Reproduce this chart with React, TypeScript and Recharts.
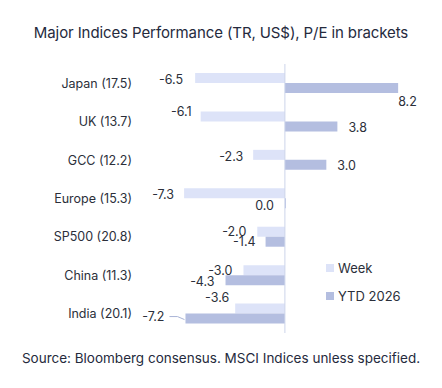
import React from "react"
import { Bar, BarChart, ReferenceLine, XAxis, YAxis } from "recharts"

const categories = [
  "Japan (17.5)",
  "UK (13.7)",
  "GCC (12.2)",
  "Europe (15.3)",
  "SP500 (20.8)",
  "China (11.3)",
  "India (20.1)",
]
const week = [-6.5, -6.1, -2.3, -7.3, -2.0, -3.0, -3.6]
const ytd = [8.2, 3.8, 3.0, 0.0, -1.4, -4.3, -7.2]

const data = categories.map((name, i) => ({ name, week: week[i], ytd: ytd[i] }))

// manual label nudges [dx, dy], like the hand-moved labels in the original
const weekNudge = [
  [-1, 1],
  [2, -5],
  [1, 2],
  [1, 1.5],
  [0, 0],
  [0, 0],
  [5, -11],
]
const ytdNudge = [
  [-11, 13],
  [0, 1],
  [0, 1],
  [0, 2],
  [1, 0],
  [0, 1],
  [-10, -2],
]

const WEEK_COLOR = "#dde3f8"
const YTD_COLOR = "#b4bee0"
const TEXT = "#2b2f3a"
const FONT = "Inter, 'Noto Sans', sans-serif"

function makeLabel(nudge: number[][], leader: boolean) {
  return (props: any) => {
    const { x, y, width, height, value, index } = props
    const x1 = Number(x)
    const x2 = Number(x) + Number(width)
    const positive = value > 0
    const end = positive ? Math.max(x1, x2) : Math.min(x1, x2)
    const cy = Number(y) + Number(height) / 2
    const [dx, dy] = nudge[index] || [0, 0]
    const tx = positive ? end + 11 + dx : end - 11 + dx
    const ty = cy + dy
    return (
      <g>
        {leader && index === categories.length - 1 && (
          <path
            d={`M${tx + 5},${ty} L${tx + 13},${ty} L${end - 1},${cy + 1}`}
            fill="none"
            stroke="#a9b4d6"
            strokeWidth={1}
          />
        )}
        <text
          x={tx}
          y={ty}
          textAnchor={positive ? "start" : "end"}
          dominantBaseline="central"
          fontSize={12.5}
          fontFamily={FONT}
          fill={TEXT}
        >
          {Number(value).toFixed(1)}
        </text>
      </g>
    )
  }
}

function LegendBox() {
  const items = [
    { label: "Week", color: WEEK_COLOR },
    { label: "YTD 2026", color: YTD_COLOR },
  ]
  return (
    <div style={{ position: "absolute", left: 326, top: 254, fontFamily: FONT, fontSize: 13, color: TEXT }}>
      {items.map((it) => (
        <div key={it.label} style={{ display: "flex", alignItems: "center", height: 28 }}>
          <span style={{ width: 8, height: 8, background: it.color, marginRight: 4 }} />
          <span>{it.label}</span>
        </div>
      ))}
    </div>
  )
}

export default function App() {
  return (
    <div style={{ position: "relative", width: 442, height: 388, background: "#fff", fontFamily: FONT }}>
      <style>{"body{margin:0}"}</style>
      <div
        style={{
          position: "absolute",
          top: 23,
          left: 0,
          width: 442,
          textAlign: "center",
          fontSize: 15,
          color: "#252a3d",
          letterSpacing: -0.1,
        }}
      >
        Major Indices Performance (TR, US$), P/E in brackets
      </div>
      <BarChart
        width={442}
        height={388}
        data={data}
        layout="vertical"
        barSize={10}
        barGap={0}
        margin={{ top: 64, right: 19, bottom: 55, left: 0 }}
      >
        <XAxis type="number" domain={[-11, 10]} hide allowDataOverflow />
        <YAxis
          type="category"
          dataKey="name"
          width={133}
          axisLine={false}
          tickLine={false}
          tickSize={0}
          tickMargin={1}
          tick={{ fontSize: 12.5, fill: TEXT, fontFamily: FONT }}
        />
        <ReferenceLine x={0} stroke="#cdd4ea" strokeWidth={1} />
        <Bar dataKey="week" fill={WEEK_COLOR} isAnimationActive={false} label={makeLabel(weekNudge, false)} />
        <Bar
          dataKey="ytd"
          fill={YTD_COLOR}
          isAnimationActive={false}
          minPointSize={(v: number) => (v === 0 ? 1 : 0)}
          label={makeLabel(ytdNudge, true)}
        />
      </BarChart>
      <LegendBox />
      <div
        style={{
          position: "absolute",
          top: 350,
          left: 0,
          width: 442,
          textAlign: "center",
          fontSize: 13.5,
          color: "#252a3d",
        }}
      >
        Source: Bloomberg consensus. MSCI Indices unless specified.
      </div>
    </div>
  )
}
